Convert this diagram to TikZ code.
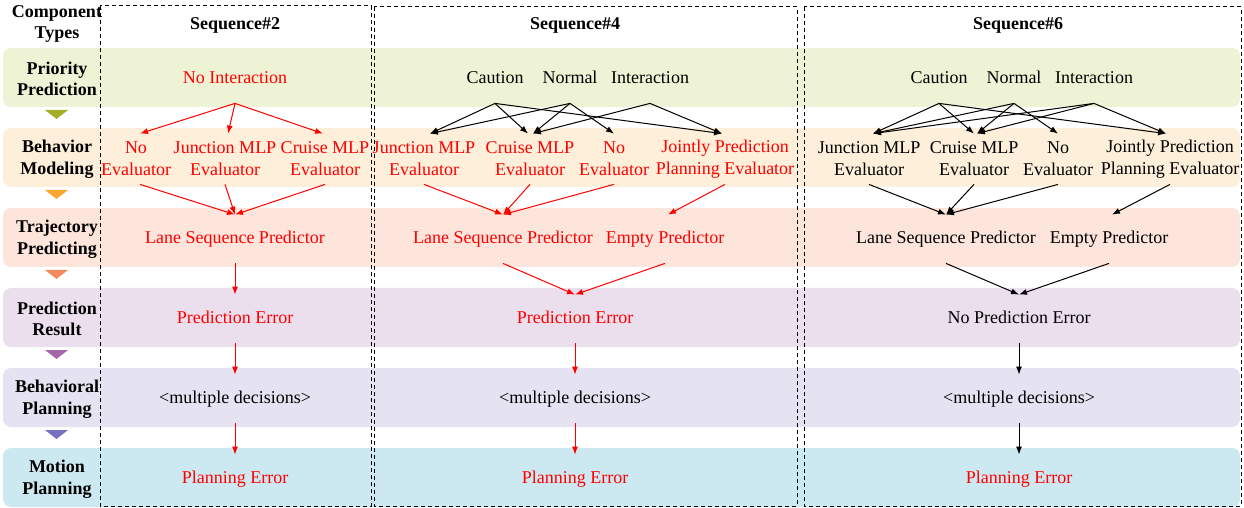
\documentclass[tikz,border=0pt]{standalone}
\usepackage{fontspec}
\setmainfont{Liberation Serif}
\usetikzlibrary{arrows.meta,positioning}
\definecolor{prio}{HTML}{EFF3D6}
\definecolor{behav}{HTML}{FDEFD9}
\definecolor{traj}{HTML}{FDE5DB}
\definecolor{result}{HTML}{EBDFEE}
\definecolor{bplan}{HTML}{E5E2F1}
\definecolor{motion}{HTML}{CCE9F1}
\definecolor{prioarrow}{HTML}{A2AE28}
\definecolor{behavarrow}{HTML}{F9A630}
\definecolor{trajarrow}{HTML}{F38B5E}
\definecolor{resultarrow}{HTML}{A468A8}
\definecolor{bplanarrow}{HTML}{7570BF}
\definecolor{faulty}{HTML}{FF0000}

\tikzset{
  rowlabel/.style={font=\fontsize{9}{10.8}\selectfont\bfseries,align=center},
  seqlabel/.style={font=\fontsize{9}{11}\selectfont\bfseries,text height=6.3pt,text depth=1.9pt},
  comp/.style={font=\fontsize{9}{11}\selectfont,inner sep=0pt,minimum height=24pt,text height=6.3pt,text depth=1.9pt},
  comptwo/.style={font=\fontsize{9}{11}\selectfont,align=center,inner sep=0pt,minimum height=25pt},
  fault/.style={faulty},
  link/.style={-{Latex[length=4pt,width=3pt]},line width=0.5pt},
  faultlink/.style={link,faulty},
  seqbox/.style={draw,line width=0.5pt,dash pattern=on 2pt off 1.5pt},
  band/.style={rounded corners=4pt},
}

\begin{document}
\begin{tikzpicture}[x=0.5pt,y=-0.5pt]
  \useasboundingbox (0,0) rectangle (1244,508);

  % Component bands, one per row
  \fill[band,prio] (3,48) rectangle (1240,107);
  \fill[band,behav] (3,128) rectangle (1240,187);
  \fill[band,traj] (3,208) rectangle (1240,267);
  \fill[band,result] (3,288) rectangle (1240,347);
  \fill[band,bplan] (3,368) rectangle (1240,427);
  \fill[band,motion] (3,448) rectangle (1240,507);

  % Small triangles between the rows
  \fill[prioarrow] (45,110) -- (68,110) -- (56.5,119) -- cycle;
  \fill[behavarrow] (45,190) -- (68,190) -- (56.5,199) -- cycle;
  \fill[trajarrow] (45,270) -- (68,270) -- (56.5,279) -- cycle;
  \fill[resultarrow] (45,350) -- (68,350) -- (56.5,359) -- cycle;
  \fill[bplanarrow] (45,430) -- (68,430) -- (56.5,439) -- cycle;

  % Row labels
  \node[rowlabel] (hdrcomp) at (57,24) {Component\\Types};
  \node[rowlabel] (lblprio) at (57,79) {Priority\\Prediction};
  \node[rowlabel] (lblbehav) at (57,159) {Behavior\\Modeling};
  \node[rowlabel] (lbltraj) at (57,239) {Trajectory\\Predicting};
  \node[rowlabel] (lblresult) at (57,319) {Prediction\\Result};
  \node[rowlabel] (lblbplan) at (57,399) {Behavioral\\Planning};
  \node[rowlabel] (lblmotion) at (57,479) {Motion\\Planning};

  % Sequence frames
  \draw[seqbox] (100,6) rectangle (371,506);
  \draw[seqbox] (374,7) rectangle (797,506);
  \draw[seqbox] (804,7) rectangle (1241,506);
  \node[seqlabel] (hdrtwo) at (235,25) {Sequence\#2};
  \node[seqlabel] (hdrfour) at (575,25) {Sequence\#4};
  \node[seqlabel] (hdrsix) at (1018,25) {Sequence\#6};

  % Sequence#2
  \node[comp,fault] (s2ni) at (235,79) {No Interaction};
  \node[comptwo,fault] (s2no) at (136,159) {No\\Evaluator};
  \node[comptwo,fault] (s2jun) at (225,159) {Junction MLP\\Evaluator};
  \node[comptwo,fault] (s2cru) at (325,159) {Cruise MLP\\Evaluator};
  \node[comp,fault] (s2lane) at (235,239) {Lane Sequence Predictor};
  \node[comp,fault] (s2res) at (235,319) {Prediction Error};
  \node[comp] (s2dec) at (235,399) {<multiple decisions>};
  \node[comp,fault] (s2plan) at (235,479) {Planning Error};

  \draw[faultlink] (s2ni.south) -- ([xshift=2pt]s2no.north);
  \draw[faultlink] (s2ni.south) -- ([xshift=1.5pt]s2jun.north);
  \draw[faultlink] (s2ni.south) -- ([xshift=-1pt]s2cru.north);
  \draw[faultlink] ([xshift=2pt]s2no.south) -- (s2lane.north);
  \draw[faultlink] (s2jun.south) -- (s2lane.north);
  \draw[faultlink] (s2cru.south) -- (s2lane.north);
  \draw[faultlink] (s2lane) -- (s2res);
  \draw[faultlink] (s2res) -- (s2dec);
  \draw[faultlink] (s2dec) -- (s2plan);

  % Sequence#4
  \node[comp] (s4cau) at (495,79) {Caution};
  \node[comp] (s4nor) at (570,79) {Normal};
  \node[comp] (s4int) at (650,79) {Interaction};
  \node[comptwo,fault] (s4jun) at (424,159) {Junction MLP\\Evaluator};
  \node[comptwo,fault] (s4cru) at (530,159) {Cruise MLP\\Evaluator};
  \node[comptwo,fault] (s4no) at (614,159) {No\\Evaluator};
  \node[comptwo,fault] (s4joi) at (725,159) {Jointly Prediction\\Planning Evaluator};
  \node[comp,fault] (s4lane) at (503,239) {Lane Sequence Predictor};
  \node[comp,fault] (s4emp) at (665,239) {Empty Predictor};
  \node[comp,fault] (s4res) at (575,319) {Prediction Error};
  \node[comp] (s4dec) at (575,399) {<multiple decisions>};
  \node[comp,fault] (s4plan) at (575,479) {Planning Error};

  \draw[link] (s4cau.south) -- ([xshift=3pt]s4jun.north);
  \draw[link] (s4cau.south) -- ([xshift=-1pt]s4cru.north);
  \draw[link] (s4cau.south) -- ([xshift=-1.5pt]s4joi.north);
  \draw[link] (s4nor.south) -- ([xshift=3pt]s4jun.north);
  \draw[link] (s4nor.south) -- ([xshift=1.5pt]s4cru.north);
  \draw[link] (s4nor.south) -- (s4no.north);
  \draw[link] (s4int.south) -- ([xshift=1.5pt]s4cru.north);
  \draw[link] (s4int.south) -- ([xshift=-1.5pt]s4joi.north);
  \draw[faultlink] (s4jun.south) -- (s4lane.north);
  \draw[faultlink] (s4cru.south) -- (s4lane.north);
  \draw[faultlink] (s4no.south) -- (s4lane.north);
  \draw[faultlink] (s4joi.south) -- ([xshift=1.5pt]s4emp.north);
  \draw[faultlink] (s4lane.south) -- (s4res.north);
  \draw[faultlink] (s4emp.south) -- (s4res.north);
  \draw[faultlink] (s4res) -- (s4dec);
  \draw[faultlink] (s4dec) -- (s4plan);

  % Sequence#6
  \node[comp] (s6cau) at (939,79) {Caution};
  \node[comp] (s6nor) at (1014,79) {Normal};
  \node[comp] (s6int) at (1094,79) {Interaction};
  \node[comptwo] (s6jun) at (869,159) {Junction MLP\\Evaluator};
  \node[comptwo] (s6cru) at (974,159) {Cruise MLP\\Evaluator};
  \node[comptwo] (s6no) at (1058,159) {No\\Evaluator};
  \node[comptwo] (s6joi) at (1170,159) {Jointly Prediction\\Planning Evaluator};
  \node[comp] (s6lane) at (946,239) {Lane Sequence Predictor};
  \node[comp] (s6emp) at (1109,239) {Empty Predictor};
  \node[comp] (s6res) at (1019,319) {No Prediction Error};
  \node[comp] (s6dec) at (1019,399) {<multiple decisions>};
  \node[comp,fault] (s6plan) at (1019,479) {Planning Error};

  \draw[link] (s6cau.south) -- ([xshift=2pt]s6jun.north);
  \draw[link] (s6cau.south) -- (s6cru.north);
  \draw[link] (s6cau.south) -- ([xshift=-2pt]s6joi.north);
  \draw[link] (s6nor.south) -- ([xshift=2pt]s6jun.north);
  \draw[link] (s6nor.south) -- ([xshift=1.5pt]s6cru.north);
  \draw[link] (s6nor.south) -- (s6no.north);
  \draw[link] (s6int.south) -- ([xshift=2pt]s6jun.north);
  \draw[link] (s6int.south) -- ([xshift=1.5pt]s6cru.north);
  \draw[link] (s6int.south) -- ([xshift=-2pt]s6joi.north);
  \draw[link] (s6jun.south) -- (s6lane.north);
  \draw[link] (s6cru.south) -- (s6lane.north);
  \draw[link] (s6no.south) -- (s6lane.north);
  \draw[link] (s6joi.south) -- ([xshift=1.5pt]s6emp.north);
  \draw[link] (s6lane.south) -- (s6res.north);
  \draw[link] (s6emp.south) -- (s6res.north);
  \draw[link] (s6res) -- (s6dec);
  \draw[link] (s6dec) -- (s6plan);
\end{tikzpicture}
\end{document}
